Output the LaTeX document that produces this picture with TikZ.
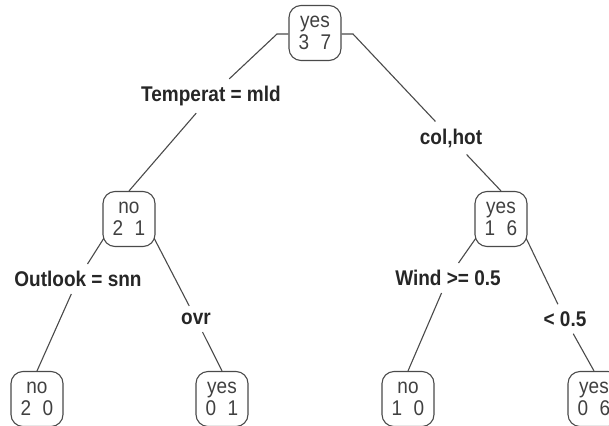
\documentclass[tikz,border=0pt]{standalone}
\usepackage{fontspec}
\setmainfont{Liberation Sans}
\definecolor{linec}{HTML}{4A4A4A}
\definecolor{nodetext}{HTML}{404040}
\definecolor{labtext}{HTML}{262626}
\newcommand{\vst}[1]{\scalebox{1}[1.12]{#1}}
\begin{document}
\begin{tikzpicture}[x=1pt,y=-1pt,
  leafbox/.style={draw=linec, line width=1.1pt, rounded corners=12pt,
    minimum width=52pt, minimum height=55pt, align=center, inner sep=0pt,
    font=\fontsize{19}{22}\selectfont, text=nodetext},
  splitlbl/.style={font=\fontsize{19}{21}\selectfont\bfseries, text=labtext,
    inner xsep=2pt, inner ysep=7pt},
  edge/.style={draw=linec, line width=1.1pt}]
\useasboundingbox (0,0) rectangle (609,425);
% boxes
\node[leafbox] (r)  at (315,33)  {\vst{yes}\\\vst{3\hspace{0.6em}7}};
\node[leafbox] (a)  at (129,219) {\vst{no}\\\vst{2\hspace{0.6em}1}};
\node[leafbox] (b)  at (501,219) {\vst{yes}\\\vst{1\hspace{0.6em}6}};
\node[leafbox] (aa) at (37,399)  {\vst{no}\\\vst{2\hspace{0.6em}0}};
\node[leafbox] (ab) at (222,399) {\vst{yes}\\\vst{0\hspace{0.6em}1}};
\node[leafbox] (ba) at (408,399) {\vst{no}\\\vst{1\hspace{0.6em}0}};
\node[leafbox] (bb) at (594,399) {\vst{yes}\\\vst{0\hspace{0.6em}6}};
% split labels
\node[splitlbl] (l1) at (211,96)  {\vst{Temperat = mld}};
\node[splitlbl] (l2) at (451,138) {\vst{col,hot}};
\node[splitlbl] (l3) at (78,279)  {\vst{Outlook = snn}};
\node[splitlbl] (l4) at (196,319) {\vst{ovr}};
\node[splitlbl] (l5) at (448,278) {\vst{Wind >= 0.5}};
\node[splitlbl] (l6) at (565,319) {\vst{< 0.5}};
% corner coordinates
\coordinate (rl) at (277,34);
\coordinate (rr) at (353,34);
\coordinate (aL) at (104,238);
\coordinate (aR) at (154,238);
\coordinate (bL) at (476,238);
\coordinate (bR) at (526,238);
% connectors
\draw[edge] (r.west |- rl) -- (rl) -- (l1);
\draw[edge] (l1) -- (a.north);
\draw[edge] (r.east |- rr) -- (rr) -- (l2);
\draw[edge] (l2) -- (b.north);
\draw[edge] (aL) -- (l3);
\draw[edge] (l3) -- (aa.north);
\draw[edge] (aR) -- (l4);
\draw[edge] (l4) -- (ab.north);
\draw[edge] (bL) -- (l5);
\draw[edge] (l5) -- (ba.north);
\draw[edge] (bR) -- (l6);
\draw[edge] (l6) -- (bb.north);
\end{tikzpicture}
\end{document}
